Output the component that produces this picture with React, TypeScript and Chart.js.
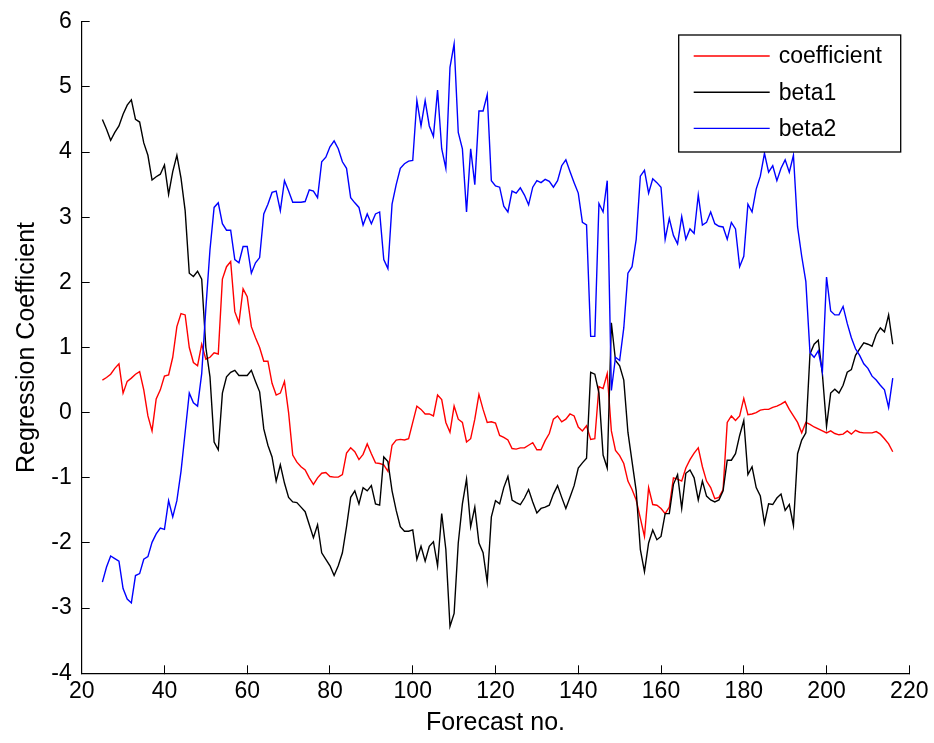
import React, { useEffect, useRef } from "react";
import { Chart, registerables } from "chart.js";

Chart.register(...registerables);

const forecastNo = [
  25, 26, 27, 28, 29, 30, 31, 32, 33, 34,
  35, 36, 37, 38, 39, 40, 41, 42, 43, 44,
  45, 46, 47, 48, 49, 50, 51, 52, 53, 54,
  55, 56, 57, 58, 59, 60, 61, 62, 63, 64,
  65, 66, 67, 68, 69, 70, 71, 72, 73, 74,
  75, 76, 77, 78, 79, 80, 81, 82, 83, 84,
  85, 86, 87, 88, 89, 90, 91, 92, 93, 94,
  95, 96, 97, 98, 99, 100, 101, 102, 103, 104,
  105, 106, 107, 108, 109, 110, 111, 112, 113, 114,
  115, 116, 117, 118, 119, 120, 121, 122, 123, 124,
  125, 126, 127, 128, 129, 130, 131, 132, 133, 134,
  135, 136, 137, 138, 139, 140, 141, 142, 143, 144,
  145, 146, 147, 148, 149, 150, 151, 152, 153, 154,
  155, 156, 157, 158, 159, 160, 161, 162, 163, 164,
  165, 166, 167, 168, 169, 170, 171, 172, 173, 174,
  175, 176, 177, 178, 179, 180, 181, 182, 183, 184,
  185, 186, 187, 188, 189, 190, 191, 192, 193, 194,
  195, 196, 197, 198, 199, 200, 201, 202, 203, 204,
  205, 206, 207, 208, 209, 210, 211, 212, 213, 214,
  215, 216,
];

const coefficient = [
  0.50, 0.54, 0.59, 0.68, 0.75, 0.30, 0.48, 0.53, 0.59, 0.63,
  0.35, -0.05, -0.28, 0.21, 0.35, 0.56, 0.58, 0.85, 1.32, 1.52,
  1.50, 1.00, 0.77, 0.72, 1.05, 0.82, 0.85, 0.92, 0.90, 2.05,
  2.24, 2.32, 1.55, 1.38, 1.90, 1.78, 1.32, 1.15, 1.00, 0.79,
  0.79, 0.45, 0.27, 0.30, 0.48, 0.00, -0.65, -0.76, -0.83, -0.88,
  -1.00, -1.10, -1.00, -0.93, -0.92, -0.98, -0.99, -0.99, -0.95, -0.62,
  -0.54, -0.60, -0.72, -0.64, -0.48, -0.63, -0.77, -0.78, -0.80, -0.90,
  -0.50, -0.42, -0.41, -0.42, -0.40, -0.15, 0.10, 0.05, -0.02, -0.02,
  -0.05, 0.27, 0.20, -0.15, -0.30, 0.10, -0.10, -0.15, -0.45, -0.40,
  -0.10, 0.28, 0.05, -0.15, -0.14, -0.16, -0.35, -0.38, -0.42, -0.55,
  -0.56, -0.54, -0.54, -0.50, -0.46, -0.57, -0.57, -0.43, -0.32, -0.10,
  -0.05, -0.14, -0.10, -0.02, -0.05, -0.22, -0.28, -0.20, -0.41, -0.40,
  0.40, 0.37, 0.60, -0.28, -0.58, -0.66, -0.78, -1.05, -1.18, -1.34,
  -1.62, -1.90, -1.15, -1.41, -1.42, -1.47, -1.55, -1.45, -1.00, -1.02,
  -1.05, -0.85, -0.72, -0.62, -0.54, -0.83, -1.05, -1.15, -1.32, -1.30,
  -1.18, -0.15, -0.05, -0.12, -0.05, 0.22, -0.03, -0.02, 0.00, 0.04,
  0.05, 0.05, 0.08, 0.10, 0.13, 0.17, 0.05, -0.05, -0.15, -0.31,
  -0.15, -0.18, -0.22, -0.25, -0.28, -0.31, -0.28, -0.32, -0.34, -0.33,
  -0.28, -0.33, -0.27, -0.30, -0.31, -0.31, -0.31, -0.29, -0.33, -0.40,
  -0.48, -0.60,
];

const beta1 = [
  4.50, 4.35, 4.18, 4.30, 4.40, 4.58, 4.72, 4.80, 4.50, 4.46,
  4.14, 3.95, 3.57, 3.62, 3.66, 3.80, 3.35, 3.70, 3.95, 3.60,
  3.10, 2.14, 2.09, 2.17, 2.05, 1.00, 0.55, -0.45, -0.57, 0.30,
  0.55, 0.62, 0.65, 0.57, 0.57, 0.57, 0.65, 0.48, 0.32, -0.25,
  -0.50, -0.68, -1.05, -0.80, -1.08, -1.30, -1.37, -1.38, -1.45, -1.52,
  -1.72, -1.92, -1.72, -2.15, -2.25, -2.35, -2.50, -2.35, -2.15, -1.75,
  -1.30, -1.20, -1.40, -1.15, -1.20, -1.12, -1.40, -1.42, -0.68, -0.75,
  -1.20, -1.50, -1.75, -1.82, -1.82, -1.80, -2.25, -2.05, -2.28, -2.05,
  -1.98, -2.35, -1.55, -2.10, -3.28, -3.08, -2.00, -1.40, -1.02, -1.75,
  -1.45, -2.00, -2.15, -2.60, -1.60, -1.35, -1.40, -1.15, -0.98, -1.34,
  -1.38, -1.41, -1.31, -1.18, -1.37, -1.54, -1.47, -1.45, -1.42, -1.25,
  -1.12, -1.30, -1.47, -1.30, -1.12, -0.85, -0.77, -0.70, 0.62, 0.59,
  0.30, -0.65, -0.85, 1.38, 0.80, 0.72, 0.50, -0.30, -0.75, -1.20,
  -2.10, -2.44, -2.00, -1.80, -1.95, -1.90, -1.55, -1.55, -1.10, -0.95,
  -1.47, -0.93, -0.88, -1.00, -1.34, -1.05, -1.28, -1.34, -1.37, -1.34,
  -1.20, -0.73, -0.73, -0.63, -0.35, -0.12, -0.95, -0.83, -1.15, -1.28,
  -1.70, -1.40, -1.41, -1.31, -1.25, -1.50, -1.41, -1.73, -0.63, -0.42,
  -0.31, 0.90, 1.05, 1.11, 0.59, -0.21, 0.30, 0.36, 0.30, 0.42,
  0.62, 0.66, 0.88, 0.98, 1.07, 1.05, 1.02, 1.20, 1.30, 1.24,
  1.50, 1.05,
];

const beta2 = [
  -2.60, -2.37, -2.20, -2.24, -2.28, -2.70, -2.86, -2.92, -2.50, -2.47,
  -2.25, -2.21, -1.99, -1.86, -1.77, -1.79, -1.35, -1.60, -1.35, -0.90,
  -0.30, 0.30, 0.15, 0.10, 0.60, 1.60, 2.50, 3.15, 3.22, 2.90,
  2.80, 2.80, 2.35, 2.30, 2.55, 2.55, 2.14, 2.30, 2.38, 3.05,
  3.20, 3.38, 3.40, 3.10, 3.56, 3.40, 3.23, 3.23, 3.23, 3.24,
  3.42, 3.40, 3.30, 3.85, 3.92, 4.08, 4.17, 4.05, 3.85, 3.75,
  3.30, 3.22, 3.15, 2.88, 3.05, 2.90, 3.05, 3.08, 2.35, 2.21,
  3.20, 3.50, 3.75, 3.82, 3.86, 3.87, 4.79, 4.40, 4.79, 4.40,
  4.24, 4.95, 4.05, 3.75, 5.30, 5.66, 4.30, 4.05, 3.08, 4.05,
  3.50, 4.63, 4.63, 4.88, 3.56, 3.48, 3.46, 3.17, 3.08, 3.40,
  3.37, 3.45, 3.34, 3.19, 3.46, 3.56, 3.53, 3.58, 3.55, 3.46,
  3.56, 3.79, 3.88, 3.70, 3.53, 3.37, 2.92, 2.88, 1.17, 1.17,
  3.21, 3.08, 3.56, 0.34, 0.85, 0.80, 1.30, 2.14, 2.24, 2.66,
  3.63, 3.72, 3.37, 3.59, 3.53, 3.46, 2.66, 2.98, 2.72, 2.59,
  3.01, 2.66, 2.82, 2.75, 3.34, 2.88, 2.92, 3.08, 2.90, 2.86,
  2.85, 2.66, 2.92, 2.82, 2.24, 2.40, 3.20, 3.08, 3.43, 3.63,
  3.98, 3.69, 3.79, 3.56, 3.75, 3.88, 3.69, 3.95, 2.85, 2.40,
  2.01, 0.92, 0.85, 0.95, 0.63, 2.08, 1.56, 1.50, 1.50, 1.63,
  1.37, 1.15, 0.98, 0.88, 0.75, 0.68, 0.56, 0.50, 0.42, 0.35,
  0.08, 0.53,
];

const seriesLabels = ["coefficient", "beta1", "beta2"];
const seriesColors = ["#ff0000", "#000000", "#0000ff"];
const xTicks = [20, 40, 60, 80, 100, 120, 140, 160, 180, 200, 220];
const yTicks = [-4, -3, -2, -1, 0, 1, 2, 3, 4, 5, 6];

const FONT = '"Liberation Sans", Arial, Helvetica, sans-serif';

const legendPlugin = {
  id: "matlabLegend",
  afterDatasetsDraw(chart: any) {
    const { ctx, chartArea } = chart;
    const w = 222;
    const h = 117;
    const x0 = chartArea.right - 8.6 - w;
    const y0 = chartArea.top + 13.3;
    ctx.save();
    ctx.fillStyle = "#ffffff";
    ctx.fillRect(x0, y0, w, h);
    ctx.strokeStyle = "#000000";
    ctx.lineWidth = 1.3;
    ctx.strokeRect(x0, y0, w, h);
    chart.data.datasets.forEach((ds: any, i: number) => {
      const y = y0 + 21 + i * 36.2;
      ctx.strokeStyle = ds.borderColor;
      ctx.lineWidth = 1.4;
      ctx.beginPath();
      ctx.moveTo(x0 + 15, y);
      ctx.lineTo(x0 + 91, y);
      ctx.stroke();
      ctx.fillStyle = "#000000";
      ctx.font = `23px ${FONT}`;
      ctx.textBaseline = "middle";
      ctx.textAlign = "left";
      ctx.fillText(ds.label, x0 + 100, y + 1);
    });
    ctx.restore();
  },
};

export default function App() {
  const ref = useRef<HTMLCanvasElement | null>(null);

  useEffect(() => {
    if (!ref.current) return;
    const series = [coefficient, beta1, beta2];
    const chart = new Chart(ref.current, {
      type: "line",
      data: {
        datasets: series.map((vals, i) => ({
          label: seriesLabels[i],
          data: forecastNo.map((x, j) => ({ x, y: vals[j] })),
          borderColor: seriesColors[i],
          backgroundColor: seriesColors[i],
          borderWidth: 1.4,
          pointRadius: 0,
          tension: 0,
          fill: false,
          order: 2 - i,
        })),
      },
      options: {
        animation: false,
        responsive: false,
        devicePixelRatio: 1,
        layout: { padding: { left: 0, right: 24.7, top: 21.7, bottom: 0 } },
        plugins: {
          legend: { display: false },
          tooltip: { enabled: false },
        },
        scales: {
          x: {
            type: "linear",
            min: 20,
            max: 220,
            afterFit: (s: any) => {
              s.height = 69.7;
              s.paddingLeft = 0;
              s.paddingRight = 0;
            },
            afterBuildTicks: (s: any) => {
              s.ticks = xTicks.map((v) => ({ value: v }));
            },
            ticks: {
              color: "#000",
              font: { family: FONT, size: 23 },
              padding: 13,
              maxRotation: 0,
              autoSkip: false,
            },
            grid: {
              drawOnChartArea: false,
              drawTicks: true,
              tickLength: -8,
              color: "#000",
              lineWidth: 1,
            },
            border: { display: true, color: "#000", width: 1.2 },
            title: {
              display: true,
              text: "Forecast no.",
              color: "#000",
              font: { family: FONT, size: 25 },
              padding: { top: 0, bottom: 4.5 },
            },
          },
          y: {
            type: "linear",
            min: -4,
            max: 6,
            afterFit: (s: any) => {
              s.width = 81.7;
              s.paddingTop = 0;
              s.paddingBottom = 0;
            },
            afterBuildTicks: (s: any) => {
              s.ticks = yTicks.map((v) => ({ value: v }));
            },
            ticks: {
              color: "#000",
              font: { family: FONT, size: 23 },
              padding: 18,
              autoSkip: false,
            },
            grid: {
              drawOnChartArea: false,
              drawTicks: true,
              tickLength: -8,
              color: "#000",
              lineWidth: 1,
            },
            border: { display: true, color: "#000", width: 1.2 },
            title: {
              display: true,
              text: "Regression Coefficient",
              color: "#000",
              font: { family: FONT, size: 25 },
              padding: { top: 12.5, bottom: 0 },
            },
          },
        },
      },
      plugins: [legendPlugin],
    });
    return () => chart.destroy();
  }, []);

  return (
    <div
      style={{
        position: "fixed",
        left: 0,
        top: 0,
        width: 934,
        height: 743,
        background: "#ffffff",
      }}
    >
      <canvas ref={ref} width={934} height={743} />
    </div>
  );
}
